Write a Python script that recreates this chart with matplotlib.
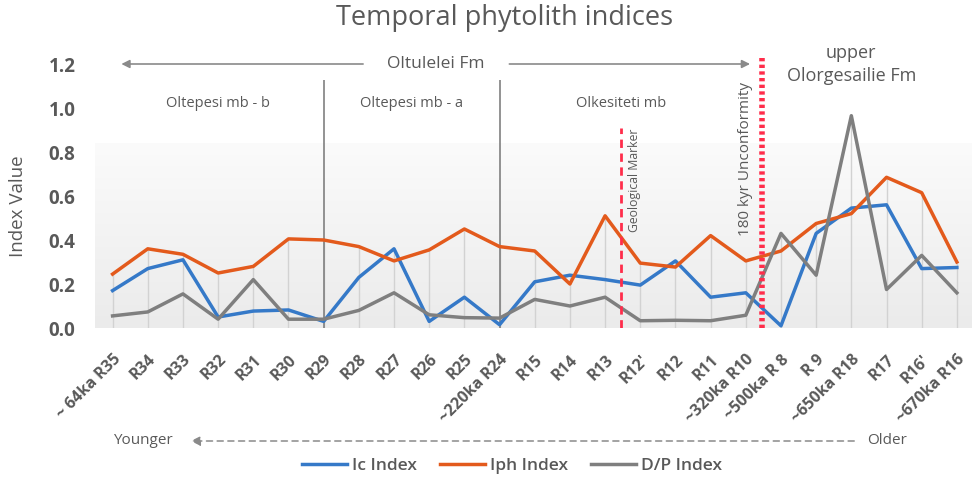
import matplotlib
matplotlib.use("Agg")
import matplotlib.pyplot as plt
import numpy as np
from matplotlib.colors import LinearSegmentedColormap

plt.rcParams['font.family'] = ['Open Sans', 'DejaVu Sans']

categories = ["~ 64ka R35", "R34", "R33", "R32", "R31", "R30", "R29", "R28", "R27",
              "R26", "R25", "~220ka R24", "R15", "R14", "R13", "R12'", "R12", "R11",
              "~320ka R10", "~500ka R 8", "R 9", "~650ka R18", "R17", "R16'", "~670ka R16"]
ic = [0.17, 0.27, 0.31, 0.05, 0.077, 0.082, 0.03, 0.23, 0.36, 0.03, 0.14, 0.015,
      0.21, 0.24, 0.22, 0.195, 0.305, 0.14, 0.16, 0.01, 0.43, 0.545, 0.56, 0.27, 0.275]
iph = [0.245, 0.36, 0.335, 0.25, 0.28, 0.405, 0.40, 0.37, 0.305, 0.355, 0.45, 0.37,
       0.35, 0.20, 0.51, 0.295, 0.277, 0.42, 0.305, 0.35, 0.475, 0.52, 0.685, 0.615, 0.30]
dp = [0.055, 0.073, 0.155, 0.04, 0.22, 0.04, 0.04, 0.08, 0.16, 0.06, 0.047, 0.045,
      0.13, 0.10, 0.14, 0.033, 0.035, 0.033, 0.058, 0.43, 0.24, 0.965, 0.175, 0.33, 0.16]
yticks = [0.0, 0.2, 0.4, 0.6, 0.8, 1.0, 1.2]

TXT = '#595959'
BLUE = '#3579c8'
ORANGE = '#e35a1c'
GRAY = '#7f7f7f'
RED = '#ff2d4b'

fig = plt.figure(figsize=(9.72, 4.8), dpi=100)
ax = fig.add_axes([95/972, 1-328/480, 1-95/972, 264/480])
x = np.arange(len(categories))
xmax = 24.43
ax.set_xlim(-0.5, xmax)
ax.set_ylim(0, 1.2)

# gradient background
cmap = LinearSegmentedColormap.from_list('bg', ['#ebebeb', '#fbfbfb'])
grad = np.linspace(0, 1, 256).reshape(-1, 1)
ax.imshow(grad, extent=[-0.5, xmax, 0, 0.84], origin='lower', cmap=cmap,
          aspect='auto', zorder=0)

# drop lines
tops = np.maximum(np.maximum(ic, iph), dp)
ax.vlines(x, 0, tops, color='#d2d2d2', lw=1, zorder=1)

# dividers
ax.vlines([6, 11], 0, 1.127, color='#808080', lw=1.2, zorder=2)

ax.plot(x, ic, color=BLUE, lw=2.5, label='Ic Index', zorder=4)
ax.plot(x, iph, color=ORANGE, lw=2.5, label='Iph Index', zorder=4)
ax.plot(x, dp, color=GRAY, lw=2.5, label='D/P Index', zorder=4)

# red markers
ax.vlines([18.45], 0, 1.24, color=RED, lw=4, linestyles=(0, (0.6, 0.6)), zorder=5,
          clip_on=False)
ax.vlines([14.45], 0, 0.91, color=RED, lw=2, linestyles=(0, (3, 2)), zorder=5)

for s in ax.spines.values():
    s.set_visible(False)
ax.set_yticks(yticks)
ax.set_yticklabels([f"{v:.1f}" for v in yticks], fontsize=13.5, fontweight='bold', color=TXT)
ax.tick_params(axis='y', length=0, pad=14)
ax.set_xticks(x)
ax.set_xticklabels(categories, rotation=45, ha='right', rotation_mode='anchor',
                   fontsize=11.5, fontweight='bold', color=TXT)
ax.tick_params(axis='x', length=0, pad=17)

fig.text(18/972, 1-206/480, 'Index Value', rotation=90, ha='center', va='center',
         fontsize=13.5, color=TXT)

# annotations
fig.text(505/972, 1-18/480, 'Temporal phytolith indices', ha='center', va='center',
         fontsize=19.5, color=TXT)
ax.text(9.2, 1.2, 'Oltulelei Fm', ha='center', va='center', fontsize=12.5, color=TXT)
ax.annotate('', xy=(0.17, 1.2), xytext=(7.2, 1.2),
            arrowprops=dict(arrowstyle='-|>', color='#8a8a8a', lw=1.2, mutation_scale=12))
ax.annotate('', xy=(18.2, 1.2), xytext=(11.2, 1.2),
            arrowprops=dict(arrowstyle='-|>', color='#8a8a8a', lw=1.2, mutation_scale=12))
ax.text(21.0, 1.25, 'upper', ha='center', va='center', fontsize=13, color=TXT, clip_on=False)
ax.text(21.0, 1.145, 'Olorgesailie Fm', ha='center', va='center', fontsize=13, color=TXT)
ax.text(3.0, 1.02, 'Oltepesi mb - b', ha='center', va='center', fontsize=10.5, color=TXT)
ax.text(8.5, 1.02, 'Oltepesi mb - a', ha='center', va='center', fontsize=10.5, color=TXT)
ax.text(14.45, 1.02, 'Olkesiteti mb', ha='center', va='center', fontsize=10.5, color=TXT)
ax.text(14.85, 0.905, 'Geological Marker', rotation=90, ha='center', va='top',
        fontsize=8.8, color=TXT)
ax.text(17.98, 0.77, '180 kyr Unconformity', rotation=90, ha='center', va='center',
        fontsize=11, color=TXT)

# younger / older
fig.text(143/972, 1-441/480, 'Younger', ha='center', va='center', fontsize=11, color=TXT)
fig.text(867/972, 1-441/480, 'Older', ha='left', va='center', fontsize=11, color=TXT)
fig.add_artist(matplotlib.patches.FancyArrowPatch(
    (857/972, 1-441/480), (188/972, 1-441/480), transform=fig.transFigure,
    arrowstyle='-|>', mutation_scale=14, color='#8a8a8a', lw=1.1, linestyle=(0, (4, 3))))

leg = fig.legend(loc='center', bbox_to_anchor=(512/972, 1-466/480), ncol=3,
                 frameon=False, fontsize=12.5, handlelength=2.6, columnspacing=1.3,
                 handletextpad=0.3)
for t in leg.get_texts():
    t.set_color(TXT)
    t.set_fontweight('semibold')

fig.savefig('out.png', dpi=100)
